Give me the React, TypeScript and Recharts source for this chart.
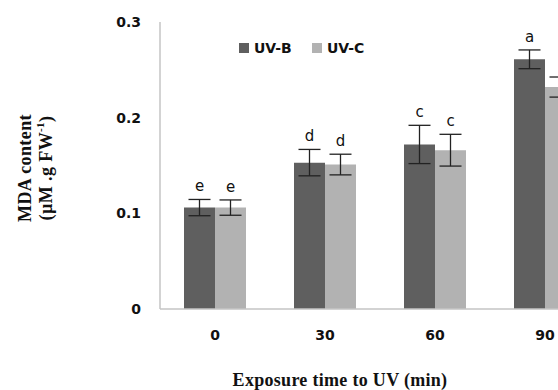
import { BarChart, Bar, XAxis, YAxis, ErrorBar, LabelList } from 'recharts'

const times = ['0', '30', '60', '90']
const uvB = [0.106, 0.153, 0.172, 0.261]
const uvC = [0.106, 0.151, 0.166, 0.232]
const uvBErr = [0.0085, 0.0138, 0.02, 0.0098]
const uvCErr = [0.008, 0.0108, 0.0166, 0.0105]
const uvBLetters = ['e', 'd', 'c', 'a']
// the letter over the last UV-C bar is cut off in the original
const uvCLetters = ['e', 'd', 'c', '']
const yTicks = [0, 0.1, 0.2, 0.3]

const data = times.map((t, i) => ({
  time: t,
  uvB: uvB[i],
  uvC: uvC[i],
  uvBErr: uvBErr[i],
  uvCErr: uvCErr[i],
  uvBLetter: uvBLetters[i],
  uvCLetter: uvCLetters[i],
}))

const sans = '"DejaVu Sans", sans-serif'
const serif = '"Liberation Serif", "Times New Roman", serif'

function letterLabel(errs: number[], values: number[]) {
  return (props: any) => {
    const { x, y, width, height, value, index } = props
    if (!value) return null
    const pxPerUnit = height / values[index]
    const top = y - errs[index] * pxPerUnit
    return (
      <text x={x + width / 2} y={top - 8} textAnchor="middle" fontFamily={sans} fontSize={15} fill="#111">
        {value}
      </text>
    )
  }
}

function Legend2() {
  const item = (color: string, label: string, left: number) => (
    <div style={{ position: 'absolute', left, top: 40, display: 'flex', alignItems: 'center' }}>
      <span style={{ width: 10, height: 10, background: color, marginRight: 5, display: 'inline-block' }} />
      <span style={{ fontFamily: sans, fontWeight: 700, fontSize: 14, color: '#111' }}>{label}</span>
    </div>
  )
  return (
    <>
      {item('#5f5f5f', 'UV-B', 239)}
      {item('#b2b2b2', 'UV-C', 312)}
    </>
  )
}

export default function App() {
  return (
    <div style={{ position: 'absolute', left: 0, top: 0, width: 558, height: 390, overflow: 'hidden', background: '#fff' }}>
      <BarChart
        width={610}
        height={390}
        data={data}
        margin={{ top: 22, right: 10, left: 0, bottom: 0 }}
        barGap={0}
      >
        <XAxis
          dataKey="time"
          height={81}
          axisLine={{ stroke: '#c4c4c4', strokeWidth: 1.5 }}
          tickLine={false}
          tickSize={0}
          tickMargin={21}
          tick={{ fontFamily: sans, fontWeight: 700, fontSize: 14, fill: '#111' }}
          label={{
            content: () => (
              <text x={340} y={386} textAnchor="middle" fontFamily={serif} fontWeight={700} fontSize={18} letterSpacing={0.3} fill="#111">
                Exposure time to UV (min)
              </text>
            ),
          }}
        />
        <YAxis
          width={160}
          domain={[0, 0.3]}
          ticks={yTicks}
          interval={0}
          axisLine={{ stroke: '#c4c4c4', strokeWidth: 1.5 }}
          tickLine={false}
          tickSize={0}
          tickMargin={19}
          tickFormatter={(v: number) => (v === 0 ? '0' : v.toFixed(1))}
          tick={{ fontFamily: sans, fontWeight: 700, fontSize: 14, fill: '#111' }}
          label={{
            content: () => (
              <g fontFamily={serif} fontWeight={700} fontSize={18} letterSpacing={0.4} fill="#111">
                <text x={25} y={168} textAnchor="middle" dominantBaseline="central" transform="rotate(-90 25 168)">
                  MDA content
                </text>
                <text x={46} y={168} textAnchor="middle" dominantBaseline="central" transform="rotate(-90 46 168)">
                  (µM .g FW<tspan fontSize={11} dy={-6}>-1</tspan><tspan dy={6}>)</tspan>
                </text>
              </g>
            ),
          }}
        />
        <Bar dataKey="uvB" fill="#5f5f5f" barSize={31} isAnimationActive={false}>
          <ErrorBar dataKey="uvBErr" width={11} stroke="#222" strokeWidth={1.3} />
          <LabelList dataKey="uvBLetter" content={letterLabel(uvBErr, uvB)} />
        </Bar>
        <Bar dataKey="uvC" fill="#b2b2b2" barSize={31} isAnimationActive={false}>
          <ErrorBar dataKey="uvCErr" width={11} stroke="#222" strokeWidth={1.3} />
          <LabelList dataKey="uvCLetter" content={letterLabel(uvCErr, uvC)} />
        </Bar>
      </BarChart>
      <Legend2 />
    </div>
  )
}
